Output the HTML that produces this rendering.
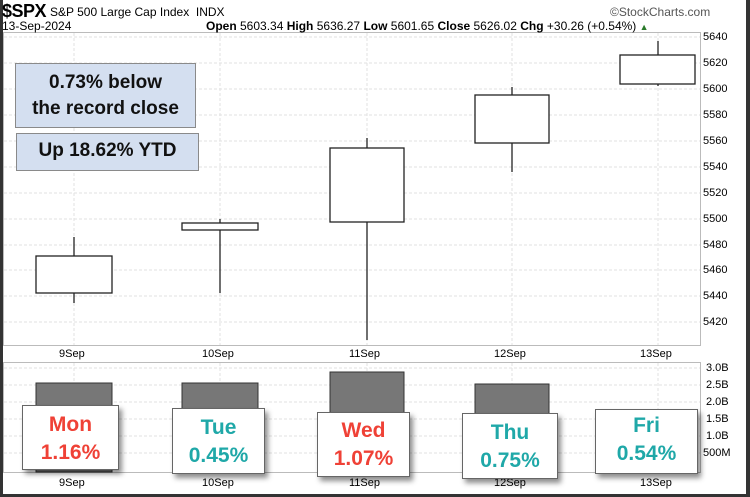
<!DOCTYPE html>
<html><head><style>
body{margin:0;background:#fff;}
#c{position:relative;width:750px;height:497px;overflow:hidden;font-family:"Liberation Sans",Arial,sans-serif;background:#fff}
.t{position:absolute;white-space:nowrap}
.box{position:absolute;background:#fff;border:1px solid #666;box-shadow:3px 4px 5px rgba(0,0,0,0.45);text-align:center;font-family:"Liberation Sans Narrow","Liberation Sans",sans-serif;font-weight:bold;font-size:21px;line-height:28px}
.r{color:#ef4136}.g{color:#1fa8a8}
.note{position:absolute;background:#d4dff0;border:1px solid #8a8a8a;text-align:center;font-size:19px;font-weight:bold;color:#111;line-height:26px}
</style></head><body><div id="c">
<svg width="750" height="497" style="position:absolute;left:0;top:0">
<rect x="0" y="0" width="750" height="497" fill="#fff"/>
<rect x="0" y="0" width="3" height="497" fill="#333"/>
<rect x="746" y="0" width="4" height="497" fill="#333"/>
<rect x="0" y="494" width="750" height="3" fill="#333"/>
<rect x="3.5" y="32.5" width="697" height="313" fill="none" stroke="#bbb"/>
<g stroke="#e2e2e2" stroke-dasharray="3,2">
<line x1="4" x2="700" y1="37" y2="37"/><line x1="4" x2="700" y1="63" y2="63"/><line x1="4" x2="700" y1="89" y2="89"/><line x1="4" x2="700" y1="115" y2="115"/><line x1="4" x2="700" y1="141" y2="141"/><line x1="4" x2="700" y1="167" y2="167"/><line x1="4" x2="700" y1="193" y2="193"/><line x1="4" x2="700" y1="219" y2="219"/><line x1="4" x2="700" y1="245" y2="245"/><line x1="4" x2="700" y1="270" y2="270"/><line x1="4" x2="700" y1="296" y2="296"/><line x1="4" x2="700" y1="322" y2="322"/>
<line x1="74" x2="74" y1="33" y2="345"/><line x1="220" x2="220" y1="33" y2="345"/><line x1="367" x2="367" y1="33" y2="345"/><line x1="512" x2="512" y1="33" y2="345"/><line x1="658" x2="658" y1="33" y2="345"/>
</g>
<g stroke="#222" stroke-width="1.3" fill="#fff">
<line x1="74" x2="74" y1="237" y2="303"/><rect x="36" y="256" width="76" height="37"/>
<line x1="220" x2="220" y1="219" y2="293"/><rect x="182" y="223" width="76" height="7"/>
<line x1="367" x2="367" y1="138" y2="340"/><rect x="330" y="148" width="74" height="74"/>
<line x1="512" x2="512" y1="87" y2="172"/><rect x="475" y="95" width="74" height="48"/>
<line x1="658" x2="658" y1="41" y2="86"/><rect x="620" y="55" width="75" height="29"/>
</g>
<rect x="3.5" y="362.5" width="697" height="110" fill="none" stroke="#bbb"/>
<g stroke="#e2e2e2" stroke-dasharray="3,2">
<line x1="4" x2="700" y1="368" y2="368"/><line x1="4" x2="700" y1="385" y2="385"/><line x1="4" x2="700" y1="402" y2="402"/><line x1="4" x2="700" y1="419" y2="419"/><line x1="4" x2="700" y1="436" y2="436"/><line x1="4" x2="700" y1="453" y2="453"/>
<line x1="74" x2="74" y1="363" y2="472"/><line x1="220" x2="220" y1="363" y2="472"/><line x1="367" x2="367" y1="363" y2="472"/><line x1="512" x2="512" y1="363" y2="472"/><line x1="658" x2="658" y1="363" y2="472"/>
</g>
<g fill="#777" stroke="#333">
<rect x="36" y="383" width="76" height="89"/><rect x="182" y="383" width="76" height="89"/><rect x="330" y="372" width="74" height="100"/><rect x="475" y="384" width="74" height="88"/>
</g>
</svg>
<div class="t" style="left:2px;top:1px;font-size:18px;font-weight:bold;letter-spacing:-0.5px">$SPX</div>
<div class="t" style="left:50px;top:5px;font-size:12px">S&amp;P 500 Large Cap Index&nbsp; INDX</div>
<div class="t" style="left:2px;top:19px;font-size:12px">13-Sep-2024</div>
<div class="t" style="left:610px;top:5px;font-size:12px;color:#555">©StockCharts.com</div>
<div class="t" style="left:206px;top:19px;font-size:12px"><b>Open</b> 5603.34 <b>High</b> 5636.27 <b>Low</b> 5601.65 <b>Close</b> 5626.02 <b>Chg</b> +30.26 (+0.54%) <span style="color:#2a7a2a;font-size:9px">▲</span></div>
<div class="t" style="left:703px;top:31px;font-size:11px;line-height:12px">5640</div>
<div class="t" style="left:703px;top:57px;font-size:11px">5620</div>
<div class="t" style="left:703px;top:83px;font-size:11px">5600</div>
<div class="t" style="left:703px;top:109px;font-size:11px">5580</div>
<div class="t" style="left:703px;top:135px;font-size:11px">5560</div>
<div class="t" style="left:703px;top:161px;font-size:11px">5540</div>
<div class="t" style="left:703px;top:187px;font-size:11px">5520</div>
<div class="t" style="left:703px;top:213px;font-size:11px">5500</div>
<div class="t" style="left:703px;top:239px;font-size:11px">5480</div>
<div class="t" style="left:703px;top:264px;font-size:11px">5460</div>
<div class="t" style="left:703px;top:290px;font-size:11px">5440</div>
<div class="t" style="left:703px;top:316px;font-size:11px">5420</div>
<div class="t" style="left:706px;top:362px;font-size:11px">3.0B</div>
<div class="t" style="left:706px;top:379px;font-size:11px">2.5B</div>
<div class="t" style="left:706px;top:396px;font-size:11px">2.0B</div>
<div class="t" style="left:706px;top:413px;font-size:11px">1.5B</div>
<div class="t" style="left:706px;top:430px;font-size:11px">1.0B</div>
<div class="t" style="left:703px;top:447px;font-size:11px">500M</div>
<div class="t" style="left:59px;top:348px;font-size:11px">9Sep</div>
<div class="t" style="left:202px;top:348px;font-size:11px">10Sep</div>
<div class="t" style="left:349px;top:348px;font-size:11px">11Sep</div>
<div class="t" style="left:494px;top:348px;font-size:11px">12Sep</div>
<div class="t" style="left:640px;top:348px;font-size:11px">13Sep</div>
<div class="t" style="left:59px;top:477px;font-size:11px">9Sep</div>
<div class="t" style="left:202px;top:477px;font-size:11px">10Sep</div>
<div class="t" style="left:349px;top:477px;font-size:11px">11Sep</div>
<div class="t" style="left:494px;top:477px;font-size:11px">12Sep</div>
<div class="t" style="left:640px;top:477px;font-size:11px">13Sep</div>
<div class="note" style="left:15px;top:63px;width:181px;height:65px;padding-top:6px;box-sizing:border-box">0.73% below<br>the record close</div>
<div class="note" style="left:16px;top:133px;width:181px;height:36px;line-height:34px">Up 18.62% YTD</div>
<div class="box r" style="left:22px;top:405px;width:97px;height:65px;padding-top:5px;box-sizing:border-box">Mon<br>1.16%</div>
<div class="box g" style="left:172px;top:408px;width:93px;height:66px;padding-top:5px;box-sizing:border-box">Tue<br>0.45%</div>
<div class="box r" style="left:317px;top:412px;width:93px;height:65px;padding-top:4px;box-sizing:border-box">Wed<br>1.07%</div>
<div class="box g" style="left:462px;top:413px;width:96px;height:66px;padding-top:5px;box-sizing:border-box">Thu<br>0.75%</div>
<div class="box g" style="left:595px;top:409px;width:103px;height:65px;padding-top:2px;box-sizing:border-box">Fri<br>0.54%</div>
</div></body></html>
